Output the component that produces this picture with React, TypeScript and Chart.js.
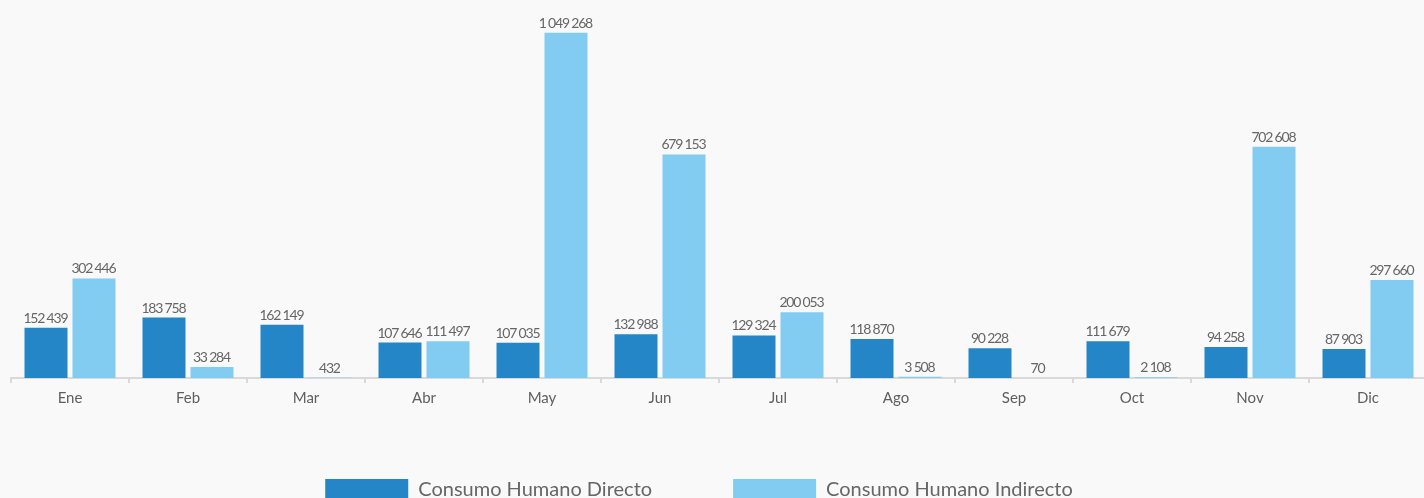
import React, { useEffect, useRef } from "react";
import { Chart, registerables } from "chart.js";

Chart.register(...registerables);

const months = ["Ene", "Feb", "Mar", "Abr", "May", "Jun", "Jul", "Ago", "Sep", "Oct", "Nov", "Dic"];
const directo = [152439, 183758, 162149, 107646, 107035, 132988, 129324, 118870, 90228, 111679, 94258, 87903];
const indirecto = [302446, 33284, 432, 111497, 1049268, 679153, 200053, 3508, 70, 2108, 702608, 297660];
const seriesNames = ["Consumo Humano Directo", "Consumo Humano Indirecto"];
const seriesColors = ["#2586C7", "#82CCF2"];

const FONT = "Lato, 'Open Sans', sans-serif";

const fmt = (v: number) => String(v).replace(/\B(?=(\d{3})+(?!\d))/g, " ");

const valueLabels = {
  id: "valueLabels",
  afterDatasetsDraw(chart: any) {
    const ctx = chart.ctx;
    ctx.save();
    ctx.font = `14px ${FONT}`;
    (ctx as any).letterSpacing = "-1.2px";
    ctx.fillStyle = "#666666";
    ctx.textAlign = "center";
    ctx.textBaseline = "alphabetic";
    chart.data.datasets.forEach((ds: any, i: number) => {
      const meta = chart.getDatasetMeta(i);
      meta.data.forEach((bar: any, j: number) => {
        ctx.fillText(fmt(ds.data[j]), bar.x - 0.6, bar.y - 5);
      });
    });
    ctx.restore();
  },
};

const layoutTweak = {
  id: "layoutTweak",
  afterLayout(chart: any) {
    const lg = chart.legend;
    if (lg) {
      lg.left -= 20;
      lg.right -= 20;
    }
    const x = chart.scales.x;
    if (x) {
      x.bottom = x.top + 34;
    }
  },
};

export default function App() {
  const ref = useRef<HTMLCanvasElement | null>(null);
  useEffect(() => {
    const prevMargin = document.body.style.margin;
    document.body.style.margin = "0";
    document.body.style.background = "#f9f9f9";
    const chart = new Chart(ref.current as HTMLCanvasElement, {
      type: "bar",
      data: {
        labels: months,
        datasets: [
          { label: seriesNames[0], data: directo, backgroundColor: seriesColors[0], categoryPercentage: 0.8136, barPercentage: 0.896 },
          { label: seriesNames[1], data: indirecto, backgroundColor: seriesColors[1], categoryPercentage: 0.8136, barPercentage: 0.896 },
        ],
      },
      options: {
        animation: false,
        responsive: false,
        maintainAspectRatio: false,
        layout: { padding: { top: 16, left: 11, right: 3, bottom: 0 } },
        plugins: {
          tooltip: { enabled: false },
          legend: {
            position: "bottom",
            labels: {
              boxWidth: 83,
              boxHeight: 22,
              padding: 81,
              color: "#666666",
              font: { family: FONT, size: 20 },
            },
          },
        },
        scales: {
          x: {
            afterFit(scale: any) {
              scale.height = 20;
            },
            grid: { display: true, drawOnChartArea: false, drawTicks: true, tickLength: 5, color: "#d9d9d9", lineWidth: 2 },
            border: { display: true, color: "#d9d9d9", width: 2 },
            ticks: { color: "#5f5f5f", padding: 6, font: { family: FONT, size: 15 } },
          },
          y: { display: false, min: 0, max: 1100000 },
        },
      },
      plugins: [valueLabels, layoutTweak],
    });
    return () => {
      chart.destroy();
      document.body.style.margin = prevMargin;
    };
  }, []);
  return (
    <div style={{ position: "absolute", left: 0, top: 0, width: 1430, height: 511, background: "#f9f9f9" }}>
      <canvas ref={ref} width={1430} height={511} style={{ display: "block", width: 1430, height: 511 }} />
    </div>
  );
}
